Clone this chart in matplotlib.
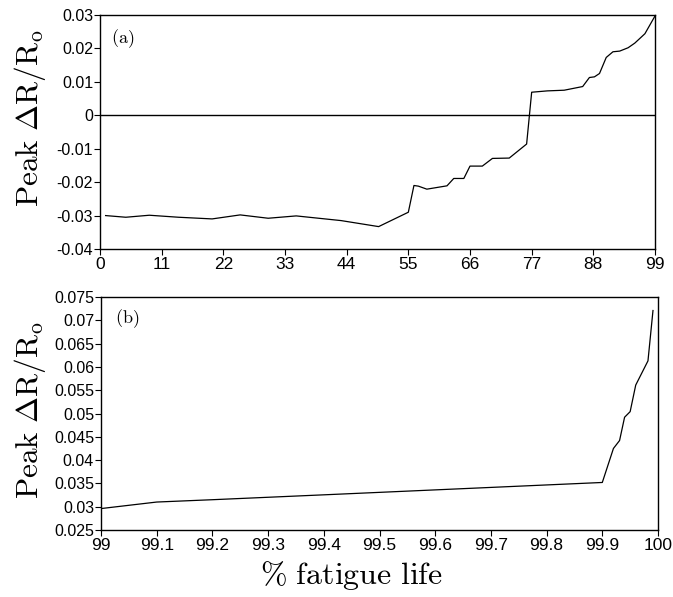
import matplotlib
matplotlib.use("Agg")
import matplotlib.pyplot as plt

plt.rcParams["mathtext.fontset"] = "cm"
plt.rcParams["font.family"] = "Liberation Sans"
plt.rcParams["axes.unicode_minus"] = False

# panel (a): whole fatigue life
life_a = [1, 4.6, 8.8, 14, 20, 25, 30, 35, 43, 49.7, 55.0, 56.0, 56.8, 58.3,
          61.9, 63.1, 64.9, 66.0, 68.2, 70.0, 73.0, 76.1, 77.0, 79.8, 82.8,
          86.1, 87.3, 88.2, 89.1, 90.3, 91.5, 92.7, 94.2, 95.4, 97.2, 99.0]
peak_a = [-0.0300, -0.0305, -0.0299, -0.0305, -0.0310, -0.0298, -0.0308,
          -0.0301, -0.0315, -0.0333, -0.0290, -0.0210, -0.0212, -0.0221,
          -0.0211, -0.0189, -0.0189, -0.0152, -0.0152, -0.0129, -0.0128,
          -0.0086, 0.0069, 0.0073, 0.0075, 0.0086, 0.0113, 0.0115, 0.0125,
          0.0173, 0.0190, 0.0192, 0.0202, 0.0216, 0.0244, 0.0297]
xticks_a = [0, 11, 22, 33, 44, 55, 66, 77, 88, 99]
yticks_a = [0.03, 0.02, 0.01, 0, -0.01, -0.02, -0.03, -0.04]
ylabels_a = ["0.03", "0.02", "0.01", "0", "-0.01", "-0.02", "-0.03", "-0.04"]

# panel (b): last 1 % of life
life_b = [99.0, 99.1, 99.2, 99.41, 99.900, 99.920, 99.931, 99.940, 99.950,
          99.960, 99.982, 99.991]
peak_b = [0.0296, 0.0310, 0.0315, 0.0326, 0.0352, 0.0425, 0.0442, 0.0492,
          0.0504, 0.0561, 0.0613, 0.0721]
xticks_b = [99, 99.1, 99.2, 99.3, 99.4, 99.5, 99.6, 99.7, 99.8, 99.9, 100]
xlabels_b = ["99", "99.1", "99.2", "99.3", "99.4", "99.5", "99.6", "99.7",
             "99.8", "99.9", "100"]
yticks_b = [0.075, 0.07, 0.065, 0.06, 0.055, 0.05, 0.045, 0.04, 0.035, 0.03, 0.025]
ylabels_b = ["0.075", "0.07", "0.065", "0.06", "0.055", "0.05", "0.045",
             "0.04", "0.035", "0.03", "0.025"]

ylab = r"$\mathrm{Peak\ \Delta R/R_o}$"

fig = plt.figure(figsize=(6.73, 5.97), dpi=100)
ax1 = fig.add_axes([100 / 673, 1 - 249 / 597, 555 / 673, 234 / 597])
ax2 = fig.add_axes([101 / 673, 1 - 530 / 597, 557 / 673, 233 / 597])


def style(ax):
    for s in ax.spines.values():
        s.set_linewidth(1.0)
    ax.tick_params(direction="out", length=4, width=0.8, top=False, right=False)
    ax.tick_params(axis="x", labelsize=12.5, pad=2)
    ax.tick_params(axis="y", labelsize=11.5, pad=1)


ax1.plot(life_a, peak_a, color="black", lw=0.9)
ax1.axhline(0, color="black", lw=1.0)
ax1.set_xlim(0, 99)
ax1.set_ylim(-0.04, 0.03)
ax1.set_xticks(xticks_a)
ax1.set_xticklabels([str(v) for v in xticks_a])
ax1.set_yticks(yticks_a)
ax1.set_yticklabels(ylabels_a)
style(ax1)
ax1.text(0.02, 0.9, r"$\mathrm{(a)}$", transform=ax1.transAxes, fontsize=13,
         va="center", ha="left")

ax2.plot(life_b, peak_b, color="black", lw=0.9)
ax2.set_xlim(99, 100)
ax2.set_ylim(0.025, 0.075)
ax2.set_xticks(xticks_b)
ax2.set_xticklabels(xlabels_b)
ax2.set_yticks(yticks_b)
ax2.set_yticklabels(ylabels_b)
style(ax2)
ax2.text(0.025, 0.905, r"$\mathrm{(b)}$", transform=ax2.transAxes, fontsize=13,
         va="center", ha="left")

fig.text(30 / 673, 1 - 118 / 597, ylab, rotation=90, fontsize=22.5,
         ha="center", va="center")
fig.text(30 / 673, 1 - 410 / 597, ylab, rotation=90, fontsize=22.5,
         ha="center", va="center")
fig.text(351 / 673, 1 - 575 / 597, r"$\%\ \mathrm{fatigue\ life}$",
         fontsize=23, ha="center", va="center")

fig.savefig("out.png", dpi=100)
